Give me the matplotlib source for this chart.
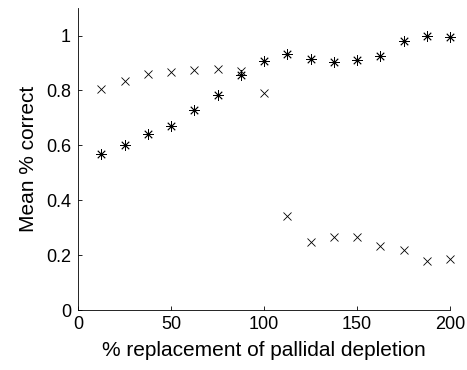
import matplotlib.pyplot as plt
from matplotlib.ticker import FuncFormatter

plt.rcParams['font.family'] = ['Liberation Sans', 'DejaVu Sans']

# % replacement of pallidal depletion
x_vals = [12.5, 25, 37.5, 50, 62.5, 75, 87.5, 100,
          112.5, 125, 137.5, 150, 162.5, 175, 187.5, 200]

# series drawn with 'x' markers
cross_vals = [0.806, 0.836, 0.860, 0.867, 0.876, 0.877, 0.872, 0.791,
              0.343, 0.247, 0.265, 0.268, 0.234, 0.219, 0.179, 0.186]

# series drawn with asterisk markers
star_vals = [0.570, 0.601, 0.642, 0.670, 0.730, 0.784, 0.856, 0.907,
             0.932, 0.914, 0.904, 0.910, 0.926, 0.980, 0.997, 0.995]

fig = plt.figure(figsize=(4.67, 3.70), dpi=100)
ax = fig.add_axes([0.167, 0.162, 0.797, 0.816])

ax.plot(x_vals, cross_vals, linestyle='none', marker='x', color='black',
        markersize=6, markeredgewidth=0.6, clip_on=False)
ax.plot(x_vals, star_vals, linestyle='none', marker=(8, 2, 0), color='black',
        markersize=7.5, markeredgewidth=0.6, clip_on=False)

ax.set_xlim(0, 200)
ax.set_ylim(0, 1.1)
ax.set_xticks([0, 50, 100, 150, 200])
ax.set_yticks([0, 0.2, 0.4, 0.6, 0.8, 1.0])
ax.yaxis.set_major_formatter(FuncFormatter(lambda v, p: f'{v:g}'))

ax.spines['top'].set_visible(False)
ax.spines['right'].set_visible(False)
ax.spines['left'].set_linewidth(0.6)
ax.spines['bottom'].set_linewidth(0.6)
ax.tick_params(direction='in', length=3, width=0.6, labelsize=13)
ax.tick_params(axis='x', pad=4)
ax.tick_params(axis='y', pad=5)

ax.set_xlabel('% replacement of pallidal depletion', fontsize=15, labelpad=6)
ax.set_ylabel('Mean % correct', fontsize=15, labelpad=6)

fig.savefig('out.png', dpi=100)
